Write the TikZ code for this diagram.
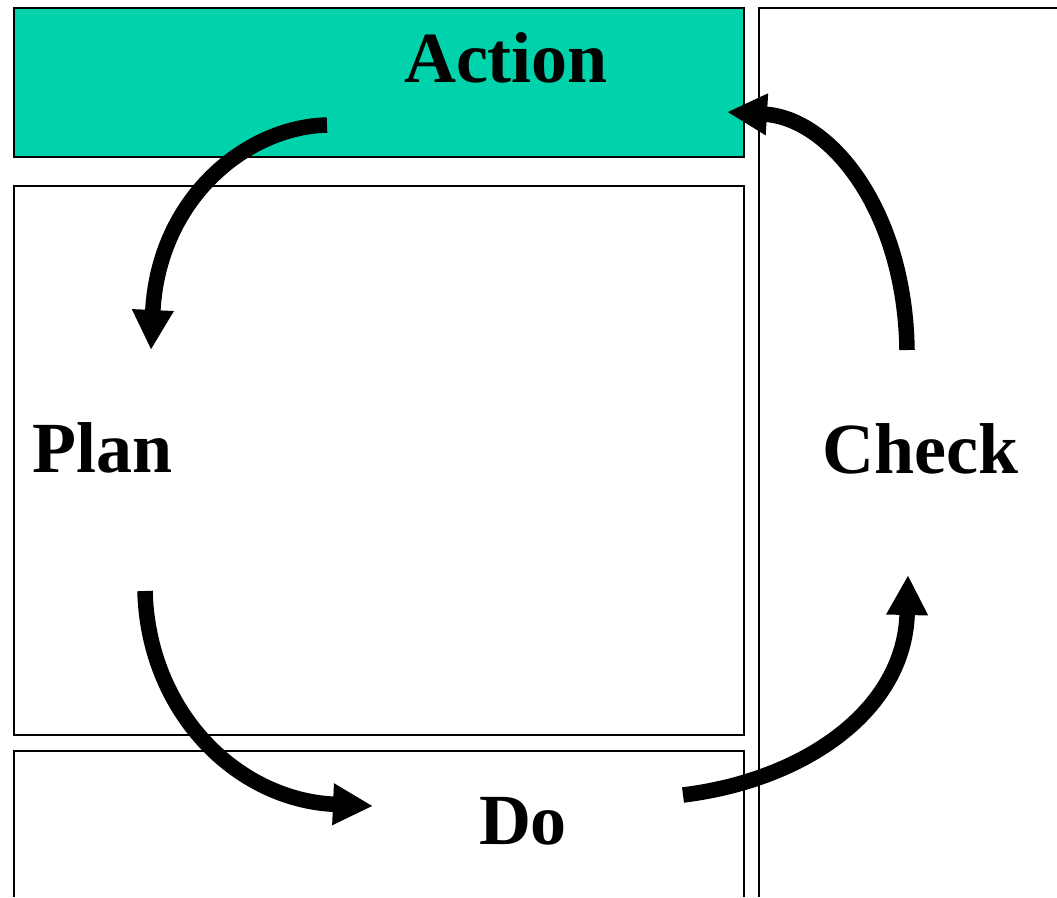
\documentclass[tikz,border=0pt]{standalone}
\usepackage{fontspec}
\setmainfont{Liberation Serif}
\usetikzlibrary{arrows.meta}
\definecolor{teal1}{RGB}{0,211,171}
\tikzset{
  panel/.style={draw=black, line width=2.6pt},
  lbl/.style={font=\fontsize{72}{72}\selectfont\bfseries, inner sep=0pt, anchor=base},
  cyc/.style={line width=15.5pt, draw=black, -{Triangle[length=40pt,width=39pt]}}
}
\begin{document}
\begin{tikzpicture}[x=1pt,y=-1pt]
\useasboundingbox (0,0) rectangle (1057,897);
\fill[white] (0,0) rectangle (1057,897);
% panels
\draw[panel, fill=teal1] (14,8) rectangle (744,157);
\draw[panel] (14,186) rectangle (744,735);
\draw[panel] (14,897) -- (14,751) -- (744,751) -- (744,897);
\draw[panel, line width=2.2pt] (759,897) -- (759,8) -- (1057,8);
% labels
\node[lbl] (action) at (506,82) {Action};
\node[lbl] (plan) at (102.5,472) {Plan};
\node[lbl] (check) at (920.5,473) {Check};
\node[lbl] (do) at (523,844) {Do};
% arrow ends
\coordinate (a1s) at (327,125);
\coordinate (a1e) at (151,350);
\coordinate (a2s) at (145,591);
\coordinate (a2e) at (373,806);
\coordinate (a3s) at (683,795);
\coordinate (a3e) at (908,575);
\coordinate (a4s) at (907,350);
\coordinate (a4e) at (727,112);
% cycle arrows
\draw[cyc] (a1s) .. controls (245,127) and (158,200) .. (a1e);
\draw[cyc] (a2s) .. controls (148,710) and (235,800) .. (a2e);
\draw[cyc] (a3s) .. controls (805,780) and (905,710) .. (a3e);
\draw[cyc] (a4s) .. controls (905,210) and (830,118) .. (a4e);
\end{tikzpicture}
\end{document}
